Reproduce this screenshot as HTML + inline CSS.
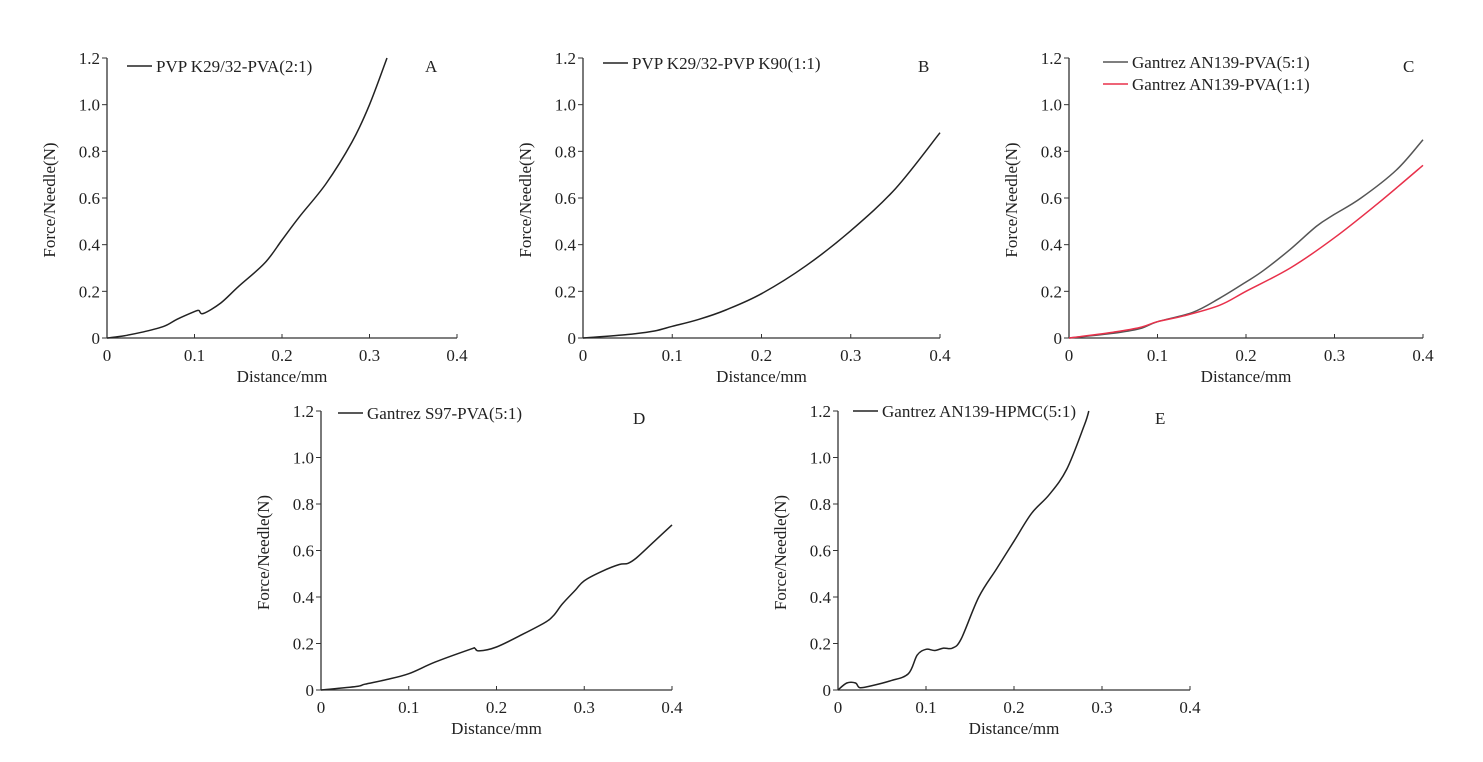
<!DOCTYPE html>
<html><head><meta charset="utf-8"><style>
html,body{margin:0;padding:0;background:#fff;}
svg text{font-family:"Liberation Serif",serif;fill:#222;}
</style></head><body>
<svg id="s" width="1483" height="757" xmlns="http://www.w3.org/2000/svg"></svg>
<script>
const s=document.getElementById('s');let h='';
function smooth(pts){let d='M'+pts[0][0]+','+pts[0][1];
 for(let i=0;i<pts.length-1;i++){const p0=pts[i-1]||pts[i],p1=pts[i],p2=pts[i+1],p3=pts[i+2]||p2;
  const c1=[p1[0]+(p2[0]-p0[0])/6,p1[1]+(p2[1]-p0[1])/6],c2=[p2[0]-(p3[0]-p1[0])/6,p2[1]-(p3[1]-p1[1])/6];
  d+=` C${c1[0].toFixed(1)},${c1[1].toFixed(1)} ${c2[0].toFixed(1)},${c2[1].toFixed(1)} ${p2[0].toFixed(1)},${p2[1].toFixed(1)}`;}
 return d;}
function panel(x0,x1,y0,y1,letter,lx,ly,legs,series){
 const X=v=>x0+(x1-x0)*v/0.4, Y=v=>y0-(y0-y1)*v/1.2;
 h+=`<line x1="${x0}" y1="${y1}" x2="${x0}" y2="${y0}" stroke="#333" stroke-width="1.3"/>`;
 h+=`<line x1="${x0}" y1="${y0}" x2="${x1}" y2="${y0}" stroke="#333" stroke-width="1.3"/>`;
 for(let i=0;i<=6;i++){const y=Y(i*0.2);h+=`<line x1="${x0-5}" y1="${y}" x2="${x0}" y2="${y}" stroke="#333"/>`;
  h+=`<text x="${x0-7}" y="${y+6}" font-size="17" text-anchor="end">${i==0?'0':(i*0.2).toFixed(1)}</text>`;}
 for(let i=0;i<=4;i++){const x=X(i*0.1);h+=`<line x1="${x}" y1="${y0-4}" x2="${x}" y2="${y0}" stroke="#333"/>`;
  h+=`<text x="${x}" y="${y0+23}" font-size="17" text-anchor="middle">${i==0?'0':(i*0.1).toFixed(1)}</text>`;}
 h+=`<text x="${(x0+x1)/2}" y="${y0+44}" font-size="17" text-anchor="middle">Distance/mm</text>`;
 const cy=(y0+y1)/2+2;
 h+=`<text transform="translate(${x0-52},${cy}) rotate(-90)" font-size="17" text-anchor="middle">Force/Needle(N)</text>`;
 h+=`<text x="${lx}" y="${ly}" font-size="17">${letter}</text>`;
 legs.forEach(l=>{h+=`<line x1="${l[0]}" y1="${l[1]}" x2="${l[0]+25}" y2="${l[1]}" stroke="${l[3]}" stroke-width="1.5"/><text x="${l[0]+29}" y="${l[1]+6}" font-size="17">${l[2]}</text>`;});
 series.forEach(sr=>{h+=`<path fill="none" stroke="${sr[0]}" stroke-width="1.5" d="${smooth(sr[1].map(p=>[X(p[0]),Y(p[1])]))}"/>`;});
}
panel(107,457,338,58,'A',425,72,[[127,66,'PVP K29/32-PVA(2:1)','#222']],[['#222',[[0,0],[0.02,0.01],[0.04,0.025],[0.065,0.05],[0.08,0.08],[0.1,0.113],[0.105,0.118],[0.11,0.105],[0.13,0.15],[0.15,0.22],[0.18,0.32],[0.2,0.42],[0.22,0.52],[0.25,0.66],[0.28,0.84],[0.3,1.0],[0.32,1.2]]]]);
panel(583,940,338,58,'B',918,72,[[603,63,'PVP K29/32-PVP K90(1:1)','#222']],[['#222',[[0,0],[0.05,0.015],[0.08,0.03],[0.1,0.05],[0.13,0.08],[0.16,0.12],[0.2,0.19],[0.25,0.31],[0.3,0.46],[0.35,0.64],[0.4,0.88]]]]);
panel(1069,1423,338,58,'C',1403,72,[[1103,62,'Gantrez AN139-PVA(5:1)','#555'],[1103,84,'Gantrez AN139-PVA(1:1)','#e8304a']],[['#555',[[0,0],[0.05,0.02],[0.08,0.04],[0.1,0.07],[0.14,0.11],[0.17,0.17],[0.2,0.24],[0.22,0.29],[0.25,0.38],[0.28,0.48],[0.3,0.53],[0.33,0.6],[0.37,0.72],[0.4,0.85]]],['#e8304a',[[0,0],[0.05,0.025],[0.08,0.045],[0.1,0.07],[0.13,0.095],[0.17,0.14],[0.2,0.2],[0.25,0.3],[0.3,0.43],[0.35,0.58],[0.4,0.74]]]]);
panel(321,672,690,411,'D',633,424,[[338,413,'Gantrez S97-PVA(5:1)','#222']],[['#222',[[0,0],[0.04,0.015],[0.05,0.025],[0.075,0.045],[0.1,0.07],[0.13,0.12],[0.17,0.175],[0.175,0.18],[0.18,0.168],[0.2,0.185],[0.23,0.24],[0.255,0.29],[0.265,0.32],[0.275,0.37],[0.29,0.43],[0.3,0.47],[0.32,0.51],[0.34,0.54],[0.35,0.545],[0.36,0.57],[0.38,0.64],[0.4,0.71]]]]);
panel(838,1190,690,411,'E',1155,424,[[853,411,'Gantrez AN139-HPMC(5:1)','#222']],[['#222',[[0,0],[0.01,0.03],[0.02,0.03],[0.025,0.01],[0.04,0.02],[0.06,0.04],[0.08,0.07],[0.09,0.15],[0.1,0.175],[0.11,0.17],[0.12,0.18],[0.13,0.18],[0.14,0.22],[0.16,0.4],[0.18,0.52],[0.2,0.64],[0.22,0.76],[0.24,0.84],[0.26,0.95],[0.28,1.14],[0.285,1.2]]]]);
s.innerHTML=h;
</script>
</body></html>
